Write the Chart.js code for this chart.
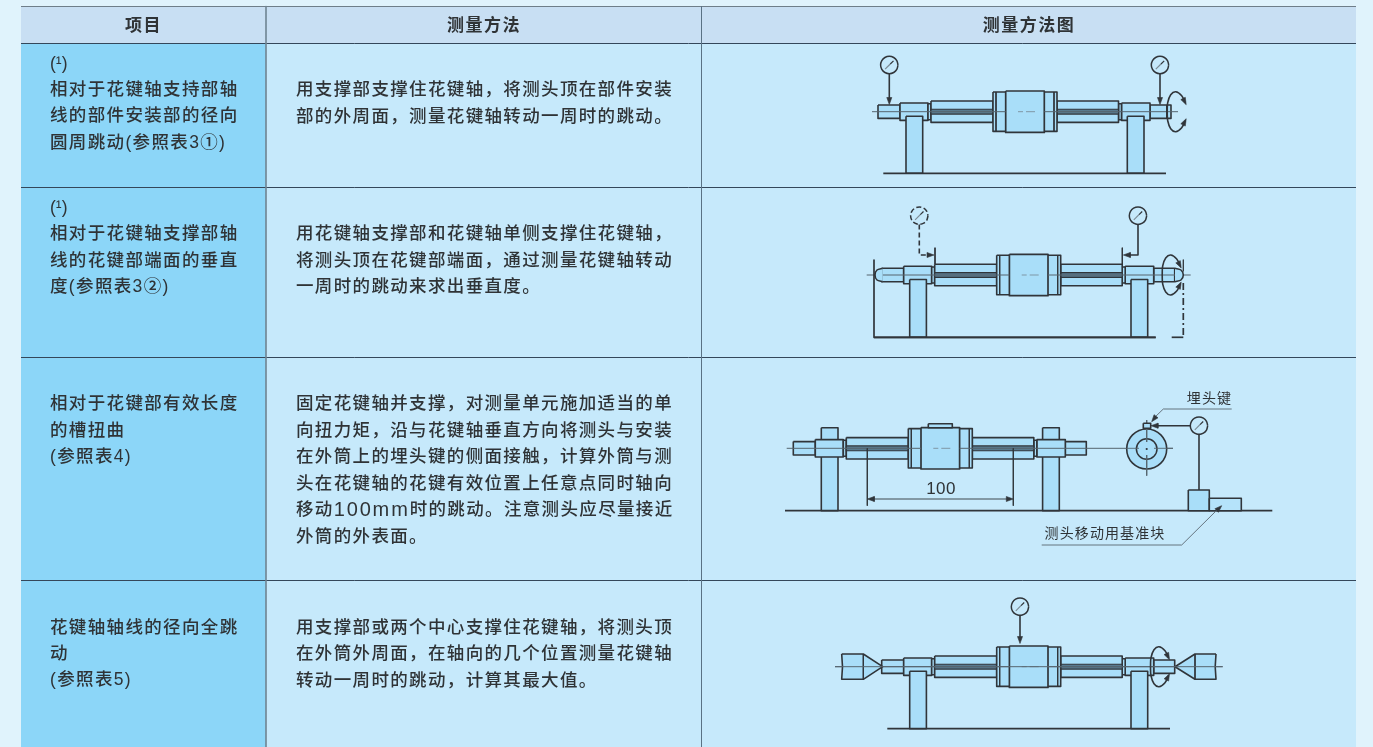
<!DOCTYPE html>
<html lang="zh-CN">
<head>
<meta charset="utf-8">
<title>测量方法</title>
<script src="https://cdn.jsdelivr.net/npm/chart.js@4"></script>
<style>
html,body{margin:0;padding:0;background:#e0f3fc;overflow:hidden}
canvas{display:block}
</style>
</head>
<body>
<canvas id="c" width="1373" height="747"></canvas>
<script>
// ---- text content ----
const headers = ['项目', '测量方法', '测量方法图'];
const itemText = [
  ['(¹)', '相对于花键轴支持部轴', '线的部件安装部的径向', '圆周跳动(参照表3①)'],
  ['(¹)', '相对于花键轴支撑部轴', '线的花键部端面的垂直', '度(参照表3②)'],
  ['相对于花键部有效长度', '的槽扭曲', '(参照表4)'],
  ['花键轴轴线的径向全跳', '动', '(参照表5)']
];
const methodText = [
  ['用支撑部支撑住花键轴，将测头顶在部件安装', '部的外周面，测量花键轴转动一周时的跳动。'],
  ['用花键轴支撑部和花键轴单侧支撑住花键轴，', '将测头顶在花键部端面，通过测量花键轴转动', '一周时的跳动来求出垂直度。'],
  ['固定花键轴并支撑，对测量单元施加适当的单', '向扭力矩，沿与花键轴垂直方向将测头与安装', '在外筒上的埋头键的侧面接触，计算外筒与测', '头在花键轴的花键有效位置上任意点同时轴向', '移动100mm时的跳动。注意测头应尽量接近', '外筒的外表面。'],
  ['用支撑部或两个中心支撑住花键轴，将测头顶', '在外筒外周面，在轴向的几个位置测量花键轴', '转动一周时的跳动，计算其最大值。']
];
const itemLineY = [[63, 89, 115, 142], [207, 233, 260, 286], [403, 430, 456], [627, 653, 679]];
const methodLineY = [[89, 116], [233, 260, 286], [403, 430, 456, 483, 509, 536], [627, 653, 680]];
const diagramLabels = ['100', '埋头键', '测头移动用基准块'];
const diagramLabelX = [941, 1209.5, 1105];
const diagramLabelY = [489, 399, 534];

// ---- table geometry ----
const columnEdges = [21, 266, 701.5, 1356];
const rowEdges = [6.5, 43.5, 187.5, 357.5, 580.5, 748];

// ---- shaft drawing: [from, to, half height] relative to the nut centre ----
const leftStub = [-147, -125, 6.7];
const leftBlock = [-125, -97, 8.7];
const leftCollar = [-97, -94, 8];
const leftShaft = [-94, -32, 10.7];
const rightShaft = [32, 93.5, 10.7];
const rightCollar = [93.5, 96.5, 8];
const rightBlock = [96.5, 125, 8.7];
const rightStub = [125, 146, 6.7];
const nutFlange = [-32, 32, 19.7];
const nutBody = [-19.3, 19.3, 20.7];
const supportSpans = [[-119, -102.3], [102.3, 119]];

// ---- placement of the four drawings: nut centre, axis y, base y ----
const drawingCentres = [[1025, 111.7, 173.3], [1028.7, 275, 337.3], [940.3, 448.3, 510.7], [1028.7, 666.7, 728.7]];
const axisEnds = [[872, 1178], [866.7, 1190.7], [786.7, 1173], [835, 1222.7]];
const baseEnds = [[883.3, 1166], [874, 1155.7], [785, 1272.3], [887.3, 1170]];

// ---- dial gauges: centre x, centre y ----
const gauges = [[889.3, 65], [1160, 65], [1138, 215.7], [1199, 425.7], [1020, 606.7]];
const dashedGauge = [919.3, 215.7];
const ringOutline = [[8.7,0],[7.5,4.4],[4.4,7.5],[0,8.7],[-4.4,7.5],[-7.5,4.4],[-8.7,0],[-7.5,-4.4],[-4.4,-7.5],[0,-8.7],[4.4,-7.5],[7.5,-4.4],[8.7,0]];

// ---- rotation marks ----
const rotationCentres = [[1176.7, 111.7], [1171.7, 275], [1160, 666.7]];
const rotationArcTop = [[8.5,-9],[5,-16],[-1,-20],[-6,-17],[-9,-9],[-9.5,0]];
const rotationArcBottom = [[-9.5,0],[-9,9],[-6,17],[-1,20],[5,16],[8.5,9]];

// ---- leaders, dimension lines, indicators ----
const lineCol = '#30353a', partFill = '#a9def9', axisCol = '#56646e', groove = '#587a8f';
const ds = [];
let orderCounter = 0;

function pts(list) { return list.map(p => ({ x: p[0], y: p[1] })); }
function path(list, o = {}) {
  ds.push({
    type: 'scatter', data: pts(list), showLine: true, clip: false,
    borderColor: o.stroke || lineCol, borderWidth: o.width === undefined ? 1.6 : o.width,
    backgroundColor: o.fill || 'transparent', fill: o.fill ? 'shape' : false,
    borderDash: o.dash || [], tension: o.tension || 0, pointRadius: 0, pointHoverRadius: 0,
    borderJoinStyle: 'round', borderCapStyle: 'butt', order: -(orderCounter++)
  });
}
function rect(x0, x1, y0, y1, o = {}) {
  path([[x0, y0], [x1, y0], [x1, y1], [x0, y1], [x0, y0]], o);
}
function part(cx, cy, s, o = {}) {
  rect(cx + s[0], cx + s[1], cy - s[2], cy + s[2], Object.assign({ fill: partFill }, o));
}
function arrowHead(tip, dx, dy, size = 7) {
  const nx = -dy, ny = dx, w = size * 0.36;
  path([tip, [tip[0] - dx * size + nx * w, tip[1] - dy * size + ny * w],
        [tip[0] - dx * size - nx * w, tip[1] - dy * size - ny * w], tip],
       { fill: lineCol, width: 0.6 });
}
function dial(c, dashed) {
  const ring = ringOutline.map(p => [c[0] + p[0], c[1] + p[1]]);
  path(ring, { tension: 0.35, dash: dashed ? [5, 2.5] : [], width: 1.5 });
  path([[c[0] - 4.2, c[1] + 4.2], [c[0] + 1, c[1] - 1]], { stroke: '#7b8a94', width: 1.2 });
  path([[c[0] + 1, c[1] - 1], [c[0] + 4.2, c[1] - 4.2]], { width: 1.2 });
}
function assembly(i, o = {}) {
  const [cx, cy, by] = drawingCentres[i];
  const top = o.tall ? cy - 20.6 : cy + 4.5;
  if (o.tall) supportSpans.forEach(s => rect(cx + s[0], cx + s[1], top, by, { fill: partFill, width: 1.6 }));
  [leftStub, rightStub, leftBlock, rightBlock, leftCollar, rightCollar, leftShaft, rightShaft].forEach(s => part(cx, cy, s));
  [leftShaft, rightShaft].forEach(s => rect(cx + s[0], cx + s[1], cy - 2.4, cy + 2.4, { fill: groove, width: 1.1 }));
  part(cx, cy, nutFlange);
  [-29, 29].forEach(d => path([[cx + d, cy - 19.7], [cx + d, cy + 19.7]], { width: 1 }));
  part(cx, cy, nutBody, { width: 1.7 });
  if (!o.tall) supportSpans.forEach(s => rect(cx + s[0], cx + s[1], top, by, { fill: partFill, width: 1.6 }));
  // axis: broken where it crosses the nut body
  const a = axisEnds[i];
  path([[a[0], cy], [cx - 19.3, cy]], { stroke: axisCol, width: 1 });
  path([[cx + 19.3, cy], [a[1], cy]], { stroke: axisCol, width: 1 });
  path([[cx - 7, cy], [cx - 2, cy]], { stroke: '#7f97a6', width: 1 });
  path([[cx + 1, cy], [cx + 10, cy]], { stroke: '#7f97a6', width: 1 });
  // base
  path([[baseEnds[i][0], by], [baseEnds[i][1], by]], { width: 1.8 });
}
function rotation(c) {
  path(rotationArcTop.map(p => [c[0] + p[0], c[1] + p[1]]), { tension: 0.4 });
  path(rotationArcBottom.map(p => [c[0] + p[0], c[1] + p[1]]), { tension: 0.4 });
  arrowHead([c[0] + 9.5, c[1] - 7], 0.45, 0.89);
  arrowHead([c[0] + 9.5, c[1] + 7], 0.45, -0.89);
}

// ---- table ----
const yTop = rowEdges[0], yHead = rowEdges[1], yEnd = rowEdges[5];
rect(columnEdges[0], columnEdges[3], yTop, yHead, { fill: '#c8dff3', width: 0, stroke: 'transparent' });
rect(columnEdges[0], columnEdges[1], yHead, yEnd, { fill: '#8cd6f8', width: 0, stroke: 'transparent' });
rect(columnEdges[1], columnEdges[3], yHead, yEnd, { fill: '#c6e9fb', width: 0, stroke: 'transparent' });
path([[columnEdges[0], yTop], [columnEdges[3], yTop]], { stroke: '#6f7e89', width: 1.2 });
rowEdges.slice(1, 5).forEach(y => path([[columnEdges[0], y], [columnEdges[3], y]], { stroke: '#34475a', width: 1 }));
path([[columnEdges[1], yTop], [columnEdges[1], yEnd]], { stroke: '#6f8492', width: 1.6 });
path([[columnEdges[2], yTop], [columnEdges[2], yEnd]], { stroke: '#5a7284', width: 1 });

// ---- drawing 1 ----
assembly(0);
path([[889.3, 73.7], [889.3, 100]]); arrowHead([889.3, 104.5], 0, 1);
path([[1160, 73.7], [1160, 100]]); arrowHead([1160, 104.5], 0, 1);
path([[1166.7, 105], [1166.7, 118.3]], { width: 1 });
dial(gauges[0]); dial(gauges[1]);
rotation(rotationCentres[0]);

// ---- drawing 2 ----
assembly(1);
path([[882.7, 268.3], [877, 270], [875, 275], [877, 280], [882.7, 281.7]], { tension: 0.3, fill: partFill });
path([[1175, 268.3], [1181, 270], [1183.3, 275], [1181, 280], [1175, 281.7]], { tension: 0.3, fill: partFill });
path([[874, 260], [874, 337.3], [1155.7, 337.3]], { width: 1.7 });
path([[1171.7, 337.3], [1183.3, 337.3]], { width: 1.7 });
path([[1183.3, 283], [1183.3, 337.3]], { width: 1.7, dash: [7, 3, 2, 3] });
path([[1183.3, 260], [1183.3, 271]], { width: 1.3 });
path([[919.3, 224.5], [919.3, 255], [929, 255]], { dash: [5, 3] }); arrowHead([934, 255], 1, 0);
path([[935, 247.7], [935, 264]], { width: 1 });
path([[1138, 224.5], [1138, 255], [1128, 255]]); arrowHead([1123.3, 255], -1, 0);
path([[1122.3, 247.7], [1122.3, 264]], { width: 1 });
dial(dashedGauge, true); dial(gauges[2]);
rotation(rotationCentres[1]);

// ---- drawing 3 ----
assembly(2, { tall: true });
rect(928.3, 952.3, 423.7, 427.7, { fill: partFill });
path([[867.3, 448.3], [867.3, 505.7]], { width: 0.9 });
path([[1013.3, 448.3], [1013.3, 505.7]], { width: 0.9 });
path([[871, 499], [1010, 499]], { width: 0.9 });
arrowHead([867.3, 499], -1, 0); arrowHead([1013.3, 499], 1, 0);
ds.push({
  type: 'scatter', data: pts([[1146.7, 449]]), pointRadius: 20, pointHoverRadius: 20, pointBorderWidth: 1.6,
  pointBackgroundColor: partFill, pointBorderColor: lineCol, order: -(orderCounter++), clip: false
});
ds.push({
  type: 'scatter', data: pts([[1146.7, 449]]), pointRadius: 10.3, pointHoverRadius: 10.3, pointBorderWidth: 1.5,
  pointBackgroundColor: partFill, pointBorderColor: lineCol, order: -(orderCounter++), clip: false
});
path([[1146.7, 420], [1146.7, 442]], { stroke: axisCol, width: 0.9 });
path([[1146.7, 455], [1146.7, 475.7]], { stroke: axisCol, width: 0.9 });
path([[1126, 448.3], [1139, 448.3]], { stroke: axisCol, width: 0.9 });
path([[1154, 448.3], [1173, 448.3]], { stroke: axisCol, width: 0.9 });
ds.push({
  type: 'scatter', data: pts([[1146.7, 449]]), pointRadius: 1.1, pointBackgroundColor: lineCol,
  pointBorderWidth: 0, order: -(orderCounter++)
});
rect(1143.3, 1150.7, 423.3, 428.3, { fill: partFill });
path([[1190, 425.7], [1156, 425.7]]); arrowHead([1151, 425.7], -1, 0);
path([[1199, 434.4], [1199, 490]]);
dial(gauges[3]);
rect(1188.3, 1209.3, 490, 510.7, { fill: partFill, width: 1.6 });
rect(1209.3, 1241.3, 498.3, 510.7, { fill: '#b5e3fa', width: 1.6 });
path([[1231.7, 409], [1163.3, 409], [1153.5, 418.5]], { width: 0.9, stroke: '#5a6670' });
arrowHead([1151.7, 421.7], -0.62, 0.78);
path([[1041.7, 545], [1181.7, 545], [1218, 509]], { width: 0.9, stroke: '#5a6670' });
arrowHead([1221.7, 505.7], 0.72, -0.69);

// ---- drawing 4 ----
assembly(3);
path([[841.7, 654], [863.3, 654], [882.7, 666.7], [863.3, 679.3], [841.7, 679.3], [842.5, 666.7], [841.7, 654]], { fill: partFill });
path([[863.3, 654], [863.3, 679.3]], { width: 1 });
path([[1216, 654], [1195, 654], [1175, 666.7], [1195, 679.3], [1216, 679.3], [1215.2, 666.7], [1216, 654]], { fill: partFill });
path([[1195, 654], [1195, 679.3]], { width: 1 });
path([[835, 666.7], [1222.7, 666.7]], { stroke: axisCol, width: 1 });
path([[1020, 615.4], [1020, 639]]); arrowHead([1020, 643.5], 0, 1);
dial(gauges[4]);
rotation(rotationCentres[2]);

// ---- text plugin ----
const cjk = '"Liberation Sans","Noto Sans CJK SC",sans-serif';
const tableText = {
  id: 'tableText',
  afterDatasetsDraw(chart) {
    const { ctx, scales: { x, y } } = chart;
    const put = (t, px, py) => ctx.fillText(t, x.getPixelForValue(px), y.getPixelForValue(py));
    ctx.save();
    ctx.fillStyle = '#2f3336';
    ctx.textBaseline = 'middle';
    ctx.textAlign = 'center';
    ctx.font = 'bold 17px ' + cjk;
    ctx.letterSpacing = '1.5px';
    [143.5, 484, 1029].forEach((cx, i) => put(headers[i], cx, 26));
    ctx.textAlign = 'left';
    const bodyFont = '500 17.5px ' + cjk;
    ctx.font = bodyFont;
    const bodyLine = (t, px, py) => {
      ctx.letterSpacing = t.startsWith('(¹') ? '0px' : '1.35px';
      // the reference sets "100mm" in a larger Latin size
      let cursor = px;
      t.split(/(100mm)/).filter(Boolean).forEach(run => {
        const latin = run === '100mm';
        ctx.font = latin ? '500 20px ' + cjk : bodyFont;
        if (latin) ctx.letterSpacing = '1.85px';
        put(run, cursor, py + 1.2);
        cursor += ctx.measureText(run).width;
        ctx.font = bodyFont;
        ctx.letterSpacing = t.startsWith('(¹') ? '0px' : '1.35px';
      });
    };
    itemText.forEach((lines, r) => lines.forEach((t, l) => bodyLine(t, 50, itemLineY[r][l])));
    methodText.forEach((lines, r) => lines.forEach((t, l) => bodyLine(t, 296, methodLineY[r][l])));
    ctx.textAlign = 'center';
    diagramLabels.forEach((t, i) => {
      ctx.font = (i === 0 ? 17 : 14) + 'px ' + cjk;
      ctx.letterSpacing = i === 0 ? '0.3px' : '1.1px';
      put(t, diagramLabelX[i], diagramLabelY[i]);
    });
    ctx.restore();
  }
};

new Chart(document.getElementById('c'), {
  type: 'scatter',
  data: { datasets: ds },
  plugins: [tableText],
  options: {
    responsive: false, animation: false, devicePixelRatio: 1,
    layout: { padding: 0, autoPadding: false },
    events: [],
    plugins: { legend: { display: false }, tooltip: { enabled: false }, title: { display: false } },
    scales: {
      x: { type: 'linear', min: 0, max: 1373, display: false },
      y: { type: 'linear', min: 0, max: 747, reverse: true, display: false }
    }
  }
});
</script>
</body>
</html>
